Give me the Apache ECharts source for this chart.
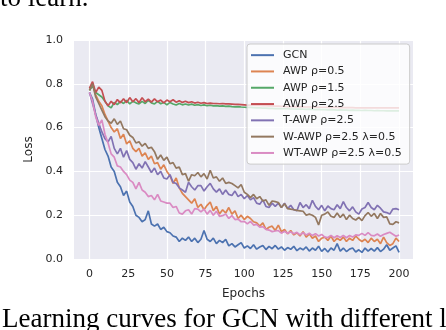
<!DOCTYPE html>
<html>
<head>
<meta charset="utf-8">
<script src="https://cdn.jsdelivr.net/npm/echarts@6/dist/echarts.min.js"></script>
<style>
  html, body { margin: 0; padding: 0; background: #fff; }
  #chart { width: 446px; height: 330px; }
</style>
</head>
<body>
<div id="chart"></div>
<script>
// epochs 0..200, every second epoch
const epochs = []
for (let e = 0; e <= 200; e += 2) epochs.push(e)

const xTicks = [0, 25, 50, 75, 100, 125, 150, 175, 200]

const gcn = [
  0.76, 0.73, 0.66, 0.60, 0.55, 0.50, 0.47, 0.42, 0.40, 0.35,
  0.33, 0.29, 0.31, 0.26, 0.24, 0.20, 0.19, 0.17, 0.18, 0.22,
  0.16, 0.15, 0.16, 0.135, 0.145, 0.125, 0.12, 0.105, 0.10, 0.08,
  0.095, 0.085, 0.10, 0.08, 0.095, 0.075, 0.09, 0.13, 0.09, 0.08,
  0.095, 0.07, 0.085, 0.075, 0.09, 0.06, 0.07, 0.055, 0.065, 0.075,
  0.05, 0.06, 0.048, 0.065, 0.045, 0.055, 0.062, 0.043, 0.058, 0.047,
  0.062, 0.045, 0.055, 0.04, 0.052, 0.044, 0.058, 0.038, 0.05, 0.042,
  0.055, 0.036, 0.05, 0.04, 0.058, 0.035, 0.048, 0.032, 0.05, 0.04,
  0.07, 0.036, 0.05, 0.034, 0.045, 0.05, 0.032, 0.042, 0.03, 0.05,
  0.036, 0.048, 0.036, 0.052, 0.034, 0.045, 0.065, 0.04, 0.05, 0.06,
  0.03
]
const awp05 = [
  0.77, 0.80, 0.75, 0.72, 0.70, 0.66, 0.63, 0.60, 0.58, 0.595,
  0.55, 0.57, 0.525, 0.54, 0.505, 0.49, 0.505, 0.47, 0.485, 0.455,
  0.47, 0.435, 0.44, 0.41, 0.43, 0.40, 0.38, 0.345, 0.37, 0.325,
  0.30, 0.285, 0.27, 0.255, 0.275, 0.235, 0.25, 0.225, 0.245, 0.26,
  0.22, 0.24, 0.205, 0.225, 0.21, 0.235, 0.205, 0.22, 0.185, 0.20,
  0.18, 0.195, 0.185, 0.17, 0.165, 0.15, 0.165, 0.135, 0.145, 0.15,
  0.13, 0.155, 0.125, 0.135, 0.115, 0.13, 0.11, 0.12, 0.105, 0.125,
  0.10, 0.115, 0.095, 0.105, 0.08, 0.095, 0.10, 0.085, 0.105, 0.08,
  0.095, 0.085, 0.10, 0.08, 0.095, 0.085, 0.105, 0.09, 0.08, 0.09,
  0.075, 0.095, 0.08, 0.09, 0.07, 0.10, 0.075, 0.062, 0.07, 0.095,
  0.08
]
const awp15 = [
  0.77, 0.79, 0.76, 0.75, 0.74, 0.72, 0.70, 0.69, 0.715, 0.705,
  0.72, 0.71, 0.725, 0.708, 0.72, 0.713, 0.708, 0.72, 0.71, 0.725,
  0.713, 0.708, 0.72, 0.709, 0.715, 0.704, 0.715, 0.708, 0.703, 0.71,
  0.704, 0.708, 0.703, 0.707, 0.702, 0.705, 0.701, 0.704, 0.70, 0.702,
  0.699, 0.70, 0.698, 0.699, 0.697, 0.698, 0.696, 0.695, 0.696, 0.694,
  0.693, 0.692, 0.692, 0.691, 0.69, 0.69, 0.689, 0.689, 0.688, 0.688,
  0.687, 0.687, 0.686, 0.686, 0.686, 0.685, 0.685, 0.684, 0.685, 0.684,
  0.683, 0.684, 0.683, 0.682, 0.683, 0.682, 0.682, 0.681, 0.682, 0.681,
  0.68, 0.681, 0.68, 0.68, 0.679, 0.68, 0.679, 0.679, 0.678, 0.679,
  0.678, 0.678, 0.677, 0.678, 0.677, 0.677, 0.676, 0.677, 0.676, 0.676,
  0.676
]
const awp25 = [
  0.78, 0.81, 0.76, 0.785, 0.77, 0.72, 0.70, 0.72, 0.705, 0.728,
  0.713, 0.732, 0.714, 0.737, 0.718, 0.732, 0.714, 0.736, 0.718, 0.73,
  0.716, 0.731, 0.718, 0.726, 0.713, 0.726, 0.718, 0.727, 0.716, 0.723,
  0.715, 0.72, 0.714, 0.718, 0.712, 0.716, 0.711, 0.714, 0.71, 0.712,
  0.71, 0.71, 0.709, 0.71, 0.708, 0.708, 0.707, 0.706, 0.706, 0.705,
  0.704, 0.703, 0.703, 0.702, 0.701, 0.701, 0.70, 0.70, 0.699, 0.699,
  0.698, 0.698, 0.697, 0.697, 0.696, 0.696, 0.696, 0.695, 0.695, 0.695,
  0.694, 0.694, 0.694, 0.693, 0.693, 0.693, 0.693, 0.692, 0.692, 0.692,
  0.692, 0.691, 0.691, 0.691, 0.691, 0.691, 0.69, 0.69, 0.69, 0.69,
  0.69, 0.69, 0.69, 0.69, 0.69, 0.69, 0.69, 0.69, 0.69, 0.69,
  0.69
]
const tawp = [
  0.76, 0.71, 0.66, 0.62, 0.58, 0.55, 0.535, 0.56, 0.505, 0.48,
  0.505, 0.465, 0.495, 0.455, 0.44, 0.41, 0.435, 0.415, 0.445, 0.42,
  0.395, 0.415, 0.385, 0.40, 0.37, 0.365, 0.385, 0.35, 0.345, 0.325,
  0.315, 0.305, 0.35, 0.33, 0.315, 0.335, 0.335, 0.31, 0.33, 0.345,
  0.32, 0.305, 0.32, 0.295, 0.315, 0.295, 0.29, 0.31, 0.285, 0.295,
  0.275, 0.29, 0.27, 0.28, 0.255, 0.25, 0.27, 0.24, 0.235, 0.255,
  0.24, 0.255, 0.235, 0.255, 0.23, 0.245, 0.225, 0.22, 0.258, 0.235,
  0.248, 0.23, 0.268, 0.24, 0.225, 0.245, 0.22, 0.242, 0.23, 0.225,
  0.248, 0.23, 0.262, 0.235, 0.22, 0.238, 0.215, 0.205, 0.228, 0.235,
  0.258, 0.235, 0.225, 0.245, 0.232, 0.215, 0.212, 0.205, 0.228, 0.23,
  0.225
]
const wawp = [
  0.77, 0.80, 0.74, 0.71, 0.68, 0.65, 0.63, 0.62, 0.64, 0.615,
  0.63, 0.595, 0.59, 0.565, 0.555, 0.53, 0.535, 0.515, 0.528, 0.505,
  0.51, 0.49, 0.455, 0.475, 0.45, 0.465, 0.435, 0.44, 0.415, 0.42,
  0.385, 0.39, 0.355, 0.385, 0.38, 0.395, 0.375, 0.39, 0.365, 0.405,
  0.37, 0.375, 0.355, 0.37, 0.345, 0.35, 0.345, 0.335, 0.325, 0.34,
  0.305, 0.295, 0.28, 0.295, 0.275, 0.285, 0.265, 0.27, 0.245, 0.265,
  0.262, 0.258, 0.235, 0.252, 0.23, 0.228, 0.225, 0.222, 0.22, 0.218,
  0.2, 0.205, 0.2, 0.19, 0.155, 0.2, 0.205, 0.215, 0.195, 0.19,
  0.21, 0.19, 0.205, 0.18, 0.2, 0.185, 0.178, 0.19, 0.175, 0.198,
  0.212, 0.195, 0.208, 0.185, 0.208, 0.19, 0.192, 0.16, 0.158, 0.17,
  0.165
]
const wtawp = [
  0.76, 0.72, 0.65, 0.61, 0.635, 0.57, 0.53, 0.48, 0.465, 0.425,
  0.42, 0.40, 0.385, 0.36, 0.35, 0.32, 0.35, 0.315, 0.305, 0.285,
  0.29, 0.27, 0.295, 0.265, 0.26, 0.255, 0.255, 0.235, 0.24, 0.21,
  0.205, 0.22, 0.225, 0.205, 0.23, 0.228, 0.215, 0.228, 0.205, 0.222,
  0.2, 0.218, 0.195, 0.198, 0.205, 0.185, 0.198, 0.18, 0.182, 0.17,
  0.172, 0.16, 0.172, 0.155, 0.158, 0.145, 0.148, 0.135, 0.132, 0.125,
  0.128, 0.13, 0.118, 0.127, 0.118, 0.124, 0.115, 0.122, 0.11, 0.12,
  0.11, 0.118, 0.107, 0.116, 0.105, 0.112, 0.1, 0.098, 0.108, 0.097,
  0.106, 0.098, 0.108, 0.097, 0.107, 0.1, 0.11, 0.108, 0.117, 0.108,
  0.12, 0.108, 0.106, 0.114, 0.104, 0.112, 0.117, 0.122, 0.113, 0.104,
  0.11
]

const seriesList = [
  { name: 'GCN', data: gcn, color: '#4C72B0' },
  { name: 'AWP ρ=0.5', data: awp05, color: '#DD8452' },
  { name: 'AWP ρ=1.5', data: awp15, color: '#55A868' },
  { name: 'AWP ρ=2.5', data: awp25, color: '#C44E52' },
  { name: 'T-AWP ρ=2.5', data: tawp, color: '#8172B3' },
  { name: 'W-AWP ρ=2.5 λ=0.5', data: wawp, color: '#937860' },
  { name: 'WT-AWP ρ=2.5 λ=0.5', data: wtawp, color: '#DA8BC3' }
]

const font = 'DejaVu Sans'
const textColor = '#262626'

const chart = echarts.init(document.getElementById('chart'), null, { renderer: 'canvas' })
chart.setOption({
  animation: false,
  backgroundColor: '#fff',
  grid: {
    left: 74,
    right: 33,
    top: 40,
    bottom: 71,
    show: true,
    backgroundColor: '#EAEAF2',
    borderWidth: 0
  },
  xAxis: {
    type: 'value',
    min: -10,
    max: 209,
    name: 'Epochs',
    nameLocation: 'middle',
    nameGap: 29,
    nameTextStyle: { fontFamily: font, fontSize: 12, color: textColor },
    axisLine: { show: false },
    axisTick: { show: false, customValues: xTicks },
    axisLabel: {
      customValues: xTicks,
      fontFamily: font,
      fontSize: 11,
      color: textColor,
      margin: 10
    },
    splitLine: { show: true, lineStyle: { color: '#fff', width: 1.2 } }
  },
  yAxis: {
    type: 'value',
    min: 0,
    max: 1,
    interval: 0.2,
    name: 'Loss',
    nameLocation: 'middle',
    nameGap: 39,
    nameTextStyle: { fontFamily: font, fontSize: 12, color: textColor },
    axisLine: { show: false },
    axisTick: { show: false },
    axisLabel: {
      fontFamily: font,
      fontSize: 11,
      color: textColor,
      margin: 11,
      formatter: v => v.toFixed(1)
    },
    splitLine: { show: true, lineStyle: { color: '#fff', width: 1.2 } }
  },
  legend: {
    orient: 'vertical',
    left: 247,
    top: 44,
    icon: 'rect',
    itemWidth: 23,
    itemHeight: 2,
    itemGap: 0,
    padding: [3, 8, 3, 4],
    backgroundColor: 'rgba(255,255,255,0.8)',
    borderColor: '#cccccc',
    borderWidth: 1,
    borderRadius: 3,
    textStyle: {
      fontFamily: font,
      fontSize: 11,
      color: textColor,
      lineHeight: 16.3,
      padding: [0, 0, 0, 4]
    },
    data: seriesList.map(s => s.name)
  },
  graphic: [
    {
      type: 'text',
      left: 0,
      top: -15,
      style: { text: 'to learn.', font: '27px "Liberation Serif"', fill: '#000' }
    },
    {
      type: 'text',
      left: 2,
      top: 306,
      style: { text: 'Learning curves for GCN with different learning', font: '27px "Liberation Serif"', fill: '#000' }
    }
  ],
  series: seriesList.map(s => ({
    name: s.name,
    type: 'line',
    showSymbol: false,
    color: s.color,
    lineStyle: { color: s.color, width: 1.7 },
    data: epochs.map((e, i) => [e, s.data[i]])
  }))
})
</script>
</body>
</html>
